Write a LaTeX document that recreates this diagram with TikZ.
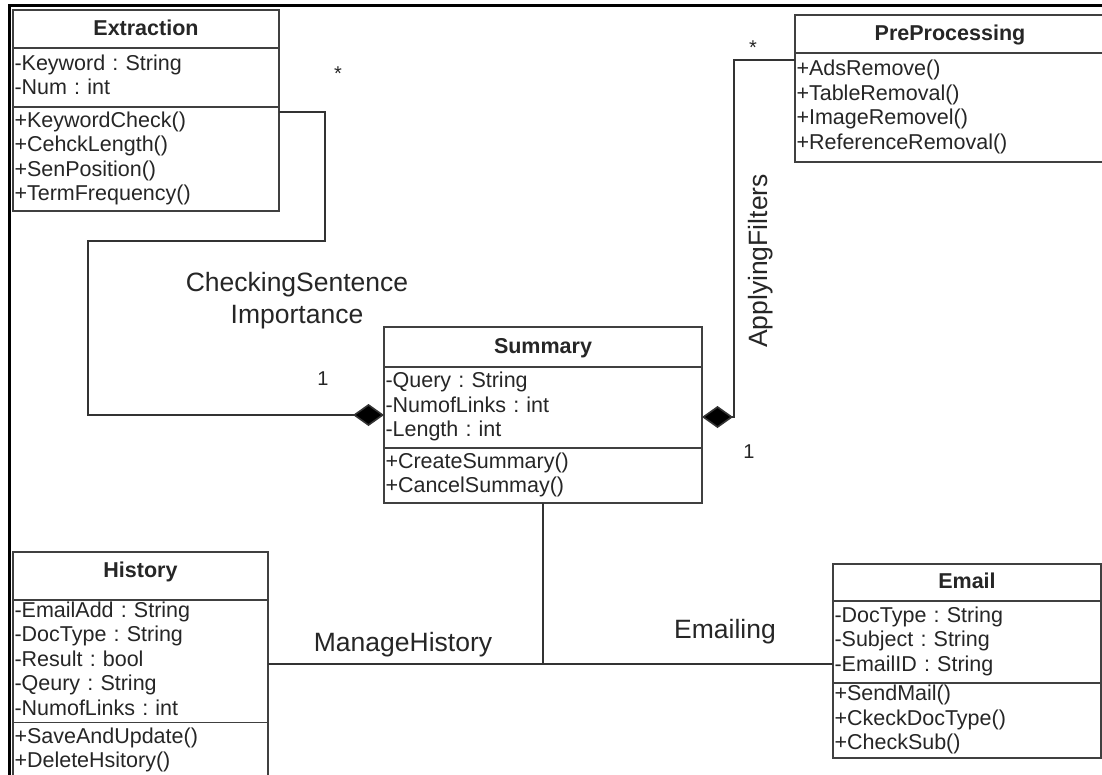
\documentclass[tikz,border=0pt]{standalone}
\usepackage{fontspec}
\setmainfont{Liberation Sans}
\usetikzlibrary{arrows.meta}
\frenchspacing

\begin{document}
\begin{tikzpicture}[x=1pt,y=-1pt,
  every node/.style={inner sep=0pt, outer sep=0pt},
  boxline/.style={draw=black!75, line width=1.4pt},
  classtitle/.style={boxline, anchor=north west, inner xsep=0pt,
    font=\bfseries\fontsize{21.5}{24.5}\selectfont, text=black!85,
    align=center, text height=16pt, text depth=4pt},
  members/.style={boxline, anchor=north west, inner xsep=1.5pt,
    font=\fontsize{21.5}{24.5}\selectfont, text=black!85, align=left,
    execute at begin node=\strut, execute at end node=\strut},
  conn/.style={draw=black!80, line width=1.6pt},
  comp/.style={conn, -{Diamond[length=31pt,width=22pt,fill=black]}},
  assocname/.style={font=\fontsize{26.5}{32}\selectfont, text=black!85},
  mult/.style={font=\fontsize{20}{24}\selectfont, text=black!85},
]
\useasboundingbox (0,0) rectangle (1102,774);
\fill[white] (0,0) rectangle (1102,774);
\clip (0,0) rectangle (1102,774);

% outer frame (top and left edges)
\draw[black, line width=3pt] (9,790) -- (9,5.5) -- (1110,5.5);

% Extraction
\node[classtitle, text width=266pt, minimum height=38pt] (extT) at (13,10) {Extraction};
\node[members, text width=263pt, minimum height=59pt] (extA) at (extT.south west)
  {-Keyword : String\\-Num : int};
\node[members, text width=263pt, minimum height=104pt] (extM) at (extA.south west)
  {+KeywordCheck()\\+CehckLength()\\+SenPosition()\\+TermFrequency()};

% PreProcessing
\node[classtitle, text width=310pt, minimum height=38pt] (preT) at (795,15) {PreProcessing};
\node[members, text width=307pt, minimum height=109pt] (preM) at (preT.south west)
  {+AdsRemove()\\+TableRemoval()\\+ImageRemovel()\\+ReferenceRemoval()};

% Summary
\node[classtitle, text width=318pt, minimum height=40pt] (sumT) at (384,327) {Summary};
\node[members, text width=315pt, minimum height=81pt] (summA) at (sumT.south west)
  {-Query : String\\-NumofLinks : int\\-Length : int};
\node[members, text width=315pt, minimum height=55pt] (summM) at (summA.south west)
  {+CreateSummary()\\+CancelSummay()};

% History
\node[classtitle, text width=255pt, minimum height=48pt, text depth=12.4pt] (histT) at (13,552) {History};
\node[members, text width=252pt, minimum height=122pt] (histA) at (histT.south west)
  {-EmailAdd : String\\-DocType : String\\-Result : bool\\-Qeury : String\\-NumofLinks : int};
\node[members, text width=252pt, minimum height=56pt] (histM) at (histA.south west)
  {+SaveAndUpdate()\\+DeleteHsitory()};

% Email
\node[classtitle, text width=268pt, minimum height=37pt] (mailT) at (833,564) {Email};
\node[members, text width=265pt, minimum height=82pt] (emailA) at (mailT.south west)
  {-DocType : String\\-Subject : String\\-EmailID : String};
\node[members, text width=265pt, minimum height=75pt] (emailM) at (emailA.south west)
  {+SendMail()\\+CkeckDocType()\\+CheckSub()};

% compositions into Summary
\draw[comp] ([yshift=-5pt]extM.north east) -- ++(46,0) -- ++(0,129) -- ++(-237,0)
  |- ([yshift=-7.5pt]summA.west);
\draw[comp] ([yshift=-7pt]preM.north west) -- ++(-61,0) |- ([yshift=-9.5pt]summA.east);

% associations below Summary
\draw[conn] (summM.south) -- ++(0,161) coordinate (junc);
\draw[conn] ([yshift=-64pt]histA.north east) -- ([yshift=-63pt]emailA.north west);

% association names and multiplicities
\node[assocname, align=center] (chk) at (297,301) {CheckingSentence\\Importance};
\node[assocname, rotate=90, anchor=base] (filt) at (767,261) {ApplyingFilters};
\node[assocname, anchor=base] (mhist) at (403,651) {ManageHistory};
\node[assocname, anchor=base] (mail) at (725,638) {Emailing};
\node[mult, anchor=base] (extMult) at (338,80) {*};
\node[mult, anchor=base] (preMult) at (753,54) {*};
\node[mult, anchor=base] (sumL) at (323,385) {1};
\node[mult, anchor=base] (sumR) at (749,458) {1};
\end{tikzpicture}
\end{document}
